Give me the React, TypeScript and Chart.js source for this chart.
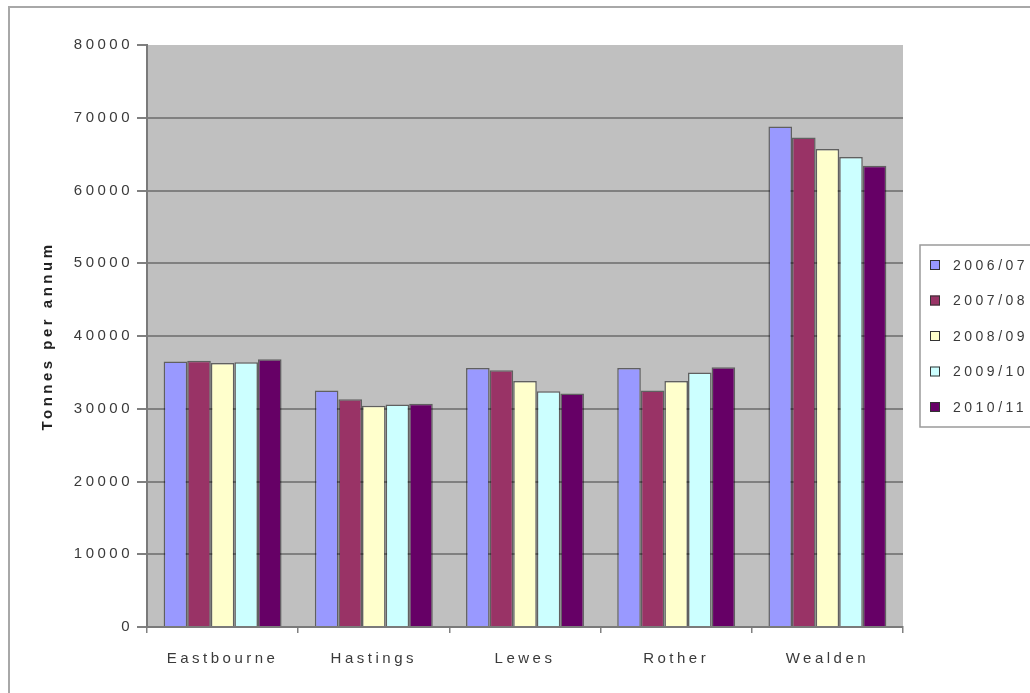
import { useEffect, useRef } from 'react';
import { Chart, registerables } from 'chart.js';

Chart.register(...registerables);

// Districts along the category axis
const districts = ['Eastbourne', 'Hastings', 'Lewes', 'Rother', 'Wealden'];

// Financial years shown as the five series
const seriesLabels = ['2006/07', '2007/08', '2008/09', '2009/10', '2010/11'];

// Tonnes per annum for each district, one array per year
const tonnes0607 = [36500, 32500, 35600, 35600, 68800];
const tonnes0708 = [36600, 31300, 35300, 32500, 67300];
const tonnes0809 = [36300, 30400, 33800, 33800, 65700];
const tonnes0910 = [36400, 30600, 32400, 35000, 64600];
const tonnes1011 = [36800, 30700, 32100, 35700, 63400];

const seriesValues = [tonnes0607, tonnes0708, tonnes0809, tonnes0910, tonnes1011];
const seriesColors = ['#9999FF', '#993366', '#FFFFCC', '#CCFFFF', '#660066'];

// Value axis
const yMin = 0;
const yMax = 80000;
const yStep = 10000;
const yTitle = 'Tonnes per annum';

const FONT = "'Liberation Sans', Arial, sans-serif";
const TEXT_SPACING = '3.5px';
const TEXT_COLOR = '#3a3a3a';
const GRID_COLOR = '#808080';

// Page background, outer chart frame and grey plot area
const chartFrame = {
  id: 'chartFrame',
  beforeDraw(chart: any) {
    const { ctx, chartArea } = chart;
    (ctx as any).letterSpacing = TEXT_SPACING;
    ctx.save();
    ctx.fillStyle = '#ffffff';
    ctx.fillRect(0, 0, chart.width, chart.height);
    ctx.fillStyle = '#C0C0C0';
    ctx.fillRect(chartArea.left, chartArea.top, chartArea.right - chartArea.left, chartArea.bottom - chartArea.top);
    ctx.strokeStyle = '#a8a8a8';
    ctx.lineWidth = 2;
    ctx.strokeRect(9, 7, chart.width + 40, chart.height + 40);
    ctx.restore();
  },
};

// Boxed legend on the right-hand side
const legendBox = {
  id: 'legendBox',
  afterDraw(chart: any) {
    const ctx = chart.ctx;
    const x0 = 920;
    const y0 = 245;
    const rowGap = 35.5;
    ctx.save();
    ctx.strokeStyle = '#9a9a9a';
    ctx.lineWidth = 1.5;
    ctx.strokeRect(x0, y0, 200, 182);
    ctx.font = `14px ${FONT}`;
    ctx.textBaseline = 'middle';
    ctx.textAlign = 'left';
    chart.data.datasets.forEach((ds: any, i: number) => {
      const cy = y0 + 20 + i * rowGap;
      ctx.fillStyle = ds.backgroundColor;
      ctx.fillRect(930, cy - 5, 10, 10);
      ctx.strokeStyle = '#333333';
      ctx.lineWidth = 1;
      ctx.strokeRect(930.5, cy - 4.5, 9, 9);
      ctx.fillStyle = TEXT_COLOR;
      ctx.fillText(ds.label, 953, cy + 1);
    });
    ctx.restore();
  },
};

export default function App() {
  const canvasRef = useRef<HTMLCanvasElement | null>(null);

  useEffect(() => {
    const canvas = canvasRef.current;
    if (!canvas) return;

    const chart = new Chart(canvas, {
      type: 'bar',
      data: {
        labels: districts,
        datasets: seriesLabels.map((label, i) => ({
          label,
          data: seriesValues[i],
          backgroundColor: seriesColors[i],
          borderColor: 'rgba(0,0,0,0.5)',
          borderWidth: 1.5,
          barPercentage: 1,
          categoryPercentage: 0.78,
        })),
      },
      options: {
        responsive: false,
        animation: false,
        layout: { padding: { top: 45, right: 127, left: 0, bottom: 0 } },
        plugins: {
          legend: { display: false },
          tooltip: { enabled: false },
          title: { display: false },
        },
        scales: {
          x: {
            afterFit: (s: any) => {
              s.height = 66;
            },
            grid: {
              drawOnChartArea: false,
              drawTicks: true,
              tickLength: 6,
              color: GRID_COLOR,
              lineWidth: 1.5,
            },
            border: { display: true, color: '#7a7a7a', width: 2 },
            ticks: {
              color: TEXT_COLOR,
              font: { family: FONT, size: 15 },
              padding: 17,
              maxRotation: 0,
              autoSkip: false,
            },
          },
          y: {
            min: yMin,
            max: yMax,
            afterFit: (s: any) => {
              s.width = 147;
            },
            grid: {
              color: (c: any) => (c.tick && c.tick.value === yMax ? 'rgba(0,0,0,0)' : GRID_COLOR),
              tickColor: GRID_COLOR,
              lineWidth: 2,
              tickLength: 10,
            },
            border: { display: true, color: '#7a7a7a', width: 2 },
            ticks: {
              stepSize: yStep,
              color: TEXT_COLOR,
              font: { family: FONT, size: 15 },
              padding: 4,
              callback: (v: any) => String(v),
            },
            title: {
              display: true,
              text: yTitle,
              color: '#222222',
              font: { family: FONT, size: 15, weight: 'bold' },
              padding: { top: 39, bottom: 0 },
            },
          },
        },
      },
      plugins: [chartFrame, legendBox],
    });

    return () => chart.destroy();
  }, []);

  return (
    <div style={{ position: 'fixed', left: 0, top: 0, width: 1030, height: 693, background: '#ffffff' }}>
      <canvas ref={canvasRef} width={1030} height={693} />
    </div>
  );
}
